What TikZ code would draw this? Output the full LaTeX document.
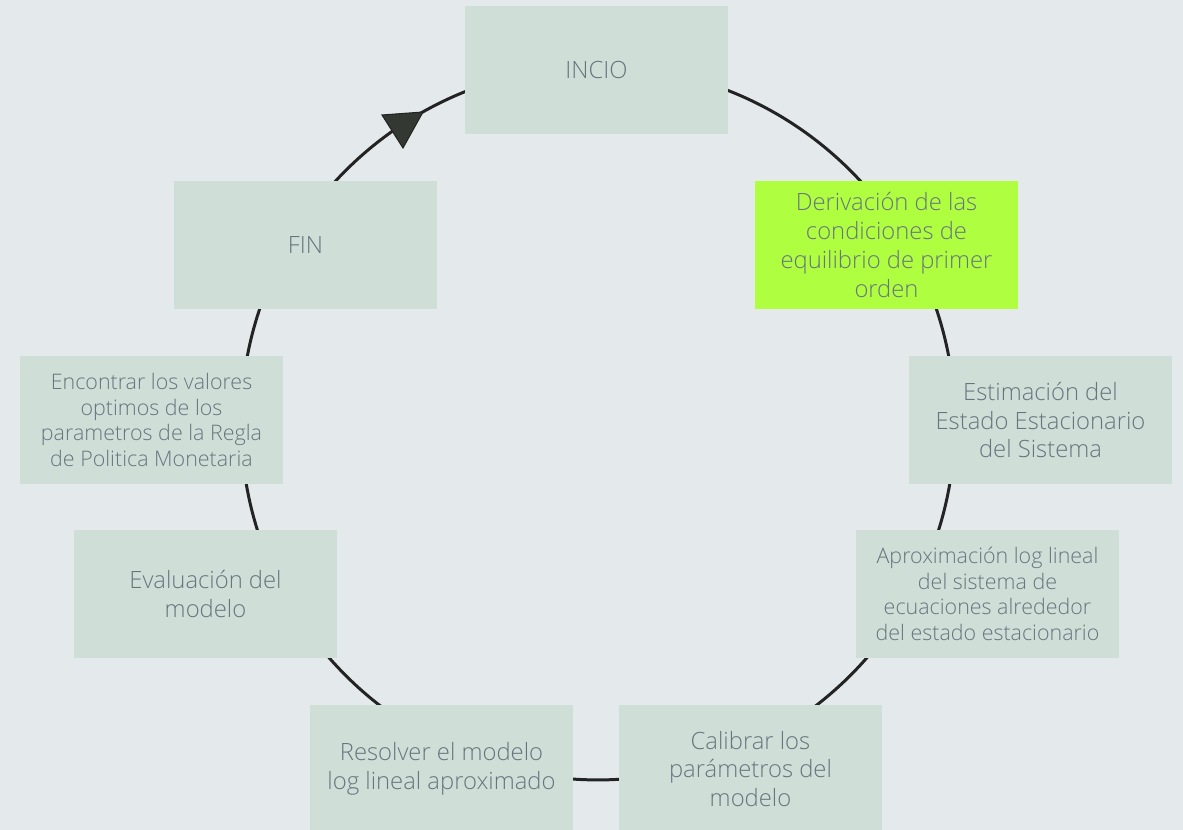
\documentclass[tikz,border=0pt]{standalone}
\usepackage{fontspec}
\setmainfont{Open Sans Light}
\definecolor{bgc}{HTML}{E4EAEC}
\definecolor{boxc}{HTML}{CFDED6}
\definecolor{hilite}{HTML}{AFFF40}
\definecolor{txtc}{HTML}{67757F}
\definecolor{ringc}{HTML}{232323}
\definecolor{tipc}{HTML}{343833}
\begin{document}
\begin{tikzpicture}[x=0.02cm,y=-0.02cm,
  stepbox/.style={fill=boxc,draw=none,minimum width=5.26cm,minimum height=2.56cm,
    inner sep=0pt,align=center,text=txtc,font=\fontsize{13.55}{16.4}\selectfont},
  smallbox/.style={stepbox,font=\fontsize{12.2}{14.5}\selectfont},
  ring/.style={draw=ringc,line width=1.7pt}]
  % background
  \fill[bgc] (0,0) rectangle (1183,830);
  \useasboundingbox (0,0) rectangle (1183,830);
  % cycle ring behind the steps
  \coordinate (c) at (598,423);
  \draw[ring] (c) circle [radius=7.14cm];
  % direction marker on the ring
  \coordinate (t1) at (382,115);
  \coordinate (t2) at (423,112);
  \coordinate (t3) at (403,148);
  \filldraw[fill=tipc,draw=ringc,line width=0.6pt,line join=miter] (t1) -- (t2) -- (t3) -- cycle;
  % steps
  \node[stepbox] (incio) at (596.5,70) {INCIO};
  \node[stepbox,fill=hilite] (deriv) at (886.5,245) {Derivación de las\\condiciones de\\equilibrio de primer\\orden};
  \node[stepbox] (estim) at (1040.5,420) {Estimación del\\Estado Estacionario\\del Sistema};
  \node[smallbox] (aprox) at (987.5,594) {Aproximación log lineal\\del sistema de\\ecuaciones alrededor\\del estado estacionario};
  \node[stepbox] (calib) at (750.5,769) {Calibrar los\\parámetros del\\modelo};
  \node[stepbox] (resol) at (441.5,769) {Resolver el modelo\\log lineal aproximado};
  \node[stepbox] (evalu) at (205.5,594) {Evaluación del\\modelo};
  \node[smallbox] (encon) at (151.5,420) {Encontrar los valores\\optimos de los\\parametros de la Regla\\de Politica Monetaria};
  \node[stepbox] (fin) at (305.5,245) {FIN};
\end{tikzpicture}
\end{document}
